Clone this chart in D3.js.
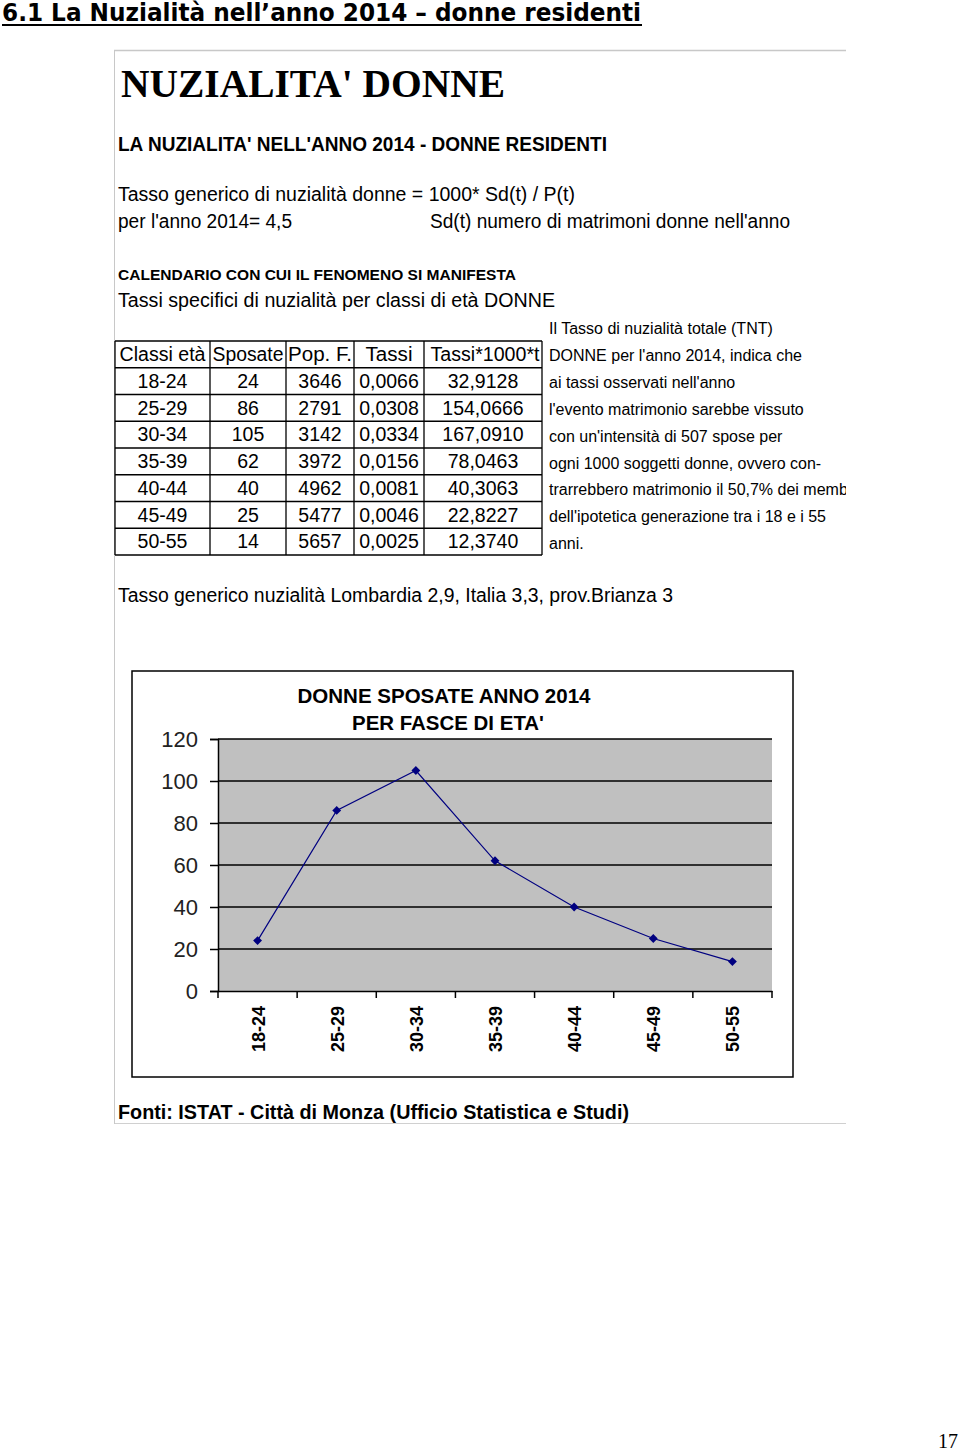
<!DOCTYPE html>
<html><head><meta charset="utf-8">
<script src="https://cdn.jsdelivr.net/npm/d3@7"></script>
<style>
html,body{margin:0;padding:0;background:#fff;}
svg{display:block;}
</style></head>
<body>
<svg id="page" width="960" height="1451"></svg>
<script>
// ---- data ----
const ageClasses = ["18-24","25-29","30-34","35-39","40-44","45-49","50-55"];
const sposate    = [24, 86, 105, 62, 40, 25, 14];
const popF       = [3646, 2791, 3142, 3972, 4962, 5477, 5657];
const tassi      = ["0,0066","0,0308","0,0334","0,0156","0,0081","0,0046","0,0025"];
const tassi1000  = ["32,9128","154,0666","167,0910","78,0463","40,3063","22,8227","12,3740"];
const tableHeaders = ["Classi età","Sposate","Pop. F.","Tassi","Tassi*1000*t"];
const yTicks     = [0, 20, 40, 60, 80, 100, 120];
const noteLines = [
  "Il Tasso di nuzialità totale (TNT)",
  "DONNE per l'anno 2014, indica che",
  "ai tassi osservati nell'anno",
  "l'evento matrimonio sarebbe vissuto",
  "con un'intensità di 507 spose per",
  "ogni 1000 soggetti donne, ovvero con-",
  "trarrebbero matrimonio il 50,7% dei membi",
  "dell'ipotetica generazione tra i 18 e i 55",
  "anni."
];

const svg = d3.select("#page");
const SANS = "'Liberation Sans', Arial, sans-serif";

function txt(g, s, x, y, opt) {
  opt = opt || {};
  const t = g.append("text").attr("x", x).attr("y", y).text(s)
    .attr("font-family", opt.family || SANS)
    .attr("font-size", opt.size || 19)
    .attr("font-weight", opt.weight || "normal")
    .attr("fill", opt.fill || "#000")
    .attr("text-anchor", opt.anchor || "start");
  if (opt.len) t.attr("textLength", opt.len).attr("lengthAdjust", "spacingAndGlyphs");
  return t;
}

// ---- page title ----
txt(svg, "6.1 La Nuzialità nell\u2019anno 2014 \u2013 donne residenti", 2, 21,
  {family:"'DejaVu Sans', Verdana, sans-serif", size:24, weight:"bold", len:639});
svg.append("rect").attr("x",2).attr("y",24).attr("width",640).attr("height",2).attr("fill","#000");

// ---- embedded image frame ----
svg.append("line").attr("x1",114).attr("x2",846).attr("y1",50.5).attr("y2",50.5).attr("stroke","#c8c8c8").attr("stroke-width",1.5);
svg.append("line").attr("x1",114).attr("x2",846).attr("y1",1123.5).attr("y2",1123.5).attr("stroke","#d0d0d0").attr("stroke-width",1);
svg.append("line").attr("x1",114.5).attr("x2",114.5).attr("y1",50).attr("y2",1124).attr("stroke","#c8c8c8").attr("stroke-width",1);

const clip = svg.append("clipPath").attr("id","imgclip");
clip.append("rect").attr("x",114).attr("y",50).attr("width",732).attr("height",1074);
const img = svg.append("g").attr("clip-path","url(#imgclip)");

txt(img, "NUZIALITA' DONNE", 121, 97, {family:"'Liberation Serif', 'Times New Roman', serif", size:39, weight:"bold", len:384});
txt(img, "LA NUZIALITA' NELL'ANNO 2014 - DONNE RESIDENTI", 118, 151, {size:20, weight:"bold", len:489});
txt(img, "Tasso generico di nuzialità donne = 1000* Sd(t) / P(t)", 118, 201, {size:19.5, len:457});
txt(img, "per l'anno 2014= 4,5", 118, 228, {size:19.5, len:174});
txt(img, "Sd(t) numero di matrimoni donne nell'anno", 430, 228, {size:19.5, len:360});
txt(img, "CALENDARIO CON CUI IL FENOMENO SI MANIFESTA", 118, 280, {size:15.5, weight:"bold", len:398});
txt(img, "Tassi specifici di nuzialità per classi di età DONNE", 118, 307, {size:19.5, len:437});

// ---- table ----
const colX = [115, 210, 286, 354, 424, 542];
const rowTop = 341, rowH = 26.75;
const nRows = ageClasses.length + 1;
const tbl = img.append("g");
colX.forEach(x => tbl.append("line").attr("x1",x).attr("x2",x).attr("y1",rowTop).attr("y2",rowTop+nRows*rowH).attr("stroke","#000").attr("stroke-width",1.3));
d3.range(nRows+1).forEach(i => tbl.append("line").attr("x1",colX[0]).attr("x2",colX[5]).attr("y1",rowTop+i*rowH).attr("y2",rowTop+i*rowH).attr("stroke","#000").attr("stroke-width",1.3));
const rows = [tableHeaders].concat(ageClasses.map((a,i)=>[a, String(sposate[i]), String(popF[i]), tassi[i], tassi1000[i]]));
const headerLens = [86, 71, 64, 47, 109];
rows.forEach((r, ri) => {
  r.forEach((c, ci) => {
    const cx = (colX[ci]+colX[ci+1])/2;
    const o = {size:19.5, anchor:"middle"};
    if (ri === 0) o.len = headerLens[ci];
    txt(tbl, c, cx + (ri===0 && ci===4 ? 2 : 0), rowTop + ri*rowH + 20, o);
  });
});

// ---- notes ----
noteLines.forEach((s,i) => {
  txt(img, s, 549, 334 + i*26.9, {size:16});
});

txt(img, "Tasso generico nuzialità Lombardia 2,9, Italia 3,3, prov.Brianza 3", 118, 602, {size:19.5, len:555});

// ---- chart ----
img.append("rect").attr("x",132).attr("y",671).attr("width",661).attr("height",406).attr("fill","#fff").attr("stroke","#000").attr("stroke-width",1.5);
txt(img, "DONNE SPOSATE ANNO 2014", 444, 703, {size:19.5, weight:"bold", anchor:"middle", len:293});
txt(img, "PER FASCE DI ETA'", 448, 730, {size:19.5, weight:"bold", anchor:"middle", len:192});

const x = d3.scaleBand().domain(ageClasses).range([218, 772]);
const y = d3.scaleLinear().domain([0, 120]).range([991, 739]);

img.append("rect").attr("x",218).attr("y",y(120)).attr("width",772-218).attr("height",y(0)-y(120)).attr("fill","#c0c0c0");

// gridlines
img.append("g").selectAll("line").data(yTicks.filter(d=>d>0)).join("line")
  .attr("x1",218).attr("x2",772).attr("y1",d=>y(d)).attr("y2",d=>y(d))
  .attr("stroke","#000").attr("stroke-width",1.5);

const yAxis = img.append("g").attr("transform","translate(218,0)")
  .call(d3.axisLeft(y).tickValues(yTicks).tickSize(8).tickPadding(12).tickFormat(d3.format("d")));
yAxis.select(".domain").attr("stroke","#000").attr("stroke-width",1.5);
yAxis.selectAll(".tick line").attr("stroke","#000").attr("stroke-width",1.5);
yAxis.selectAll("text").attr("font-family",SANS).attr("font-size",22).attr("fill","#222");

const xAxis = img.append("g").attr("transform","translate(0,991)")
  .call(d3.axisBottom(x).tickSize(0).tickFormat(""));
xAxis.select(".domain").attr("stroke","#000").attr("stroke-width",1.5);
// boundary ticks
img.append("g").selectAll("line").data(ageClasses.map(c=>x(c)).concat([772])).join("line")
  .attr("x1",d=>d).attr("x2",d=>d).attr("y1",991).attr("y2",998).attr("stroke","#000").attr("stroke-width",1.5);
// rotated labels
img.append("g").selectAll("text").data(ageClasses).join("text")
  .attr("transform", d => `translate(${x(d)+x.bandwidth()/2+7},1006) rotate(-90)`)
  .attr("text-anchor","end").attr("font-family",SANS).attr("font-weight","bold").attr("font-size",19)
  .attr("textLength",46).attr("lengthAdjust","spacingAndGlyphs")
  .text(d=>d);

// line + markers
const cx = d => x(d) + x.bandwidth()/2;
const line = d3.line().x((d,i)=>cx(ageClasses[i])).y(d=>y(d));
img.append("path").datum(sposate).attr("d", line).attr("fill","none").attr("stroke","#000080").attr("stroke-width",1.2);
img.append("g").selectAll("path").data(sposate).join("path")
  .attr("d", d3.symbol(d3.symbolDiamond2, 50))
  .attr("transform", (d,i)=>`translate(${cx(ageClasses[i])},${y(d)})`)
  .attr("fill","#000080");

txt(img, "Fonti: ISTAT - Città di Monza (Ufficio Statistica e Studi)", 118, 1119, {size:19.5, weight:"bold", len:511});

// ---- page number ----
txt(svg, "17", 958, 1448, {family:"'Liberation Serif', 'Times New Roman', serif", size:20, anchor:"end"});
</script>
</body></html>
